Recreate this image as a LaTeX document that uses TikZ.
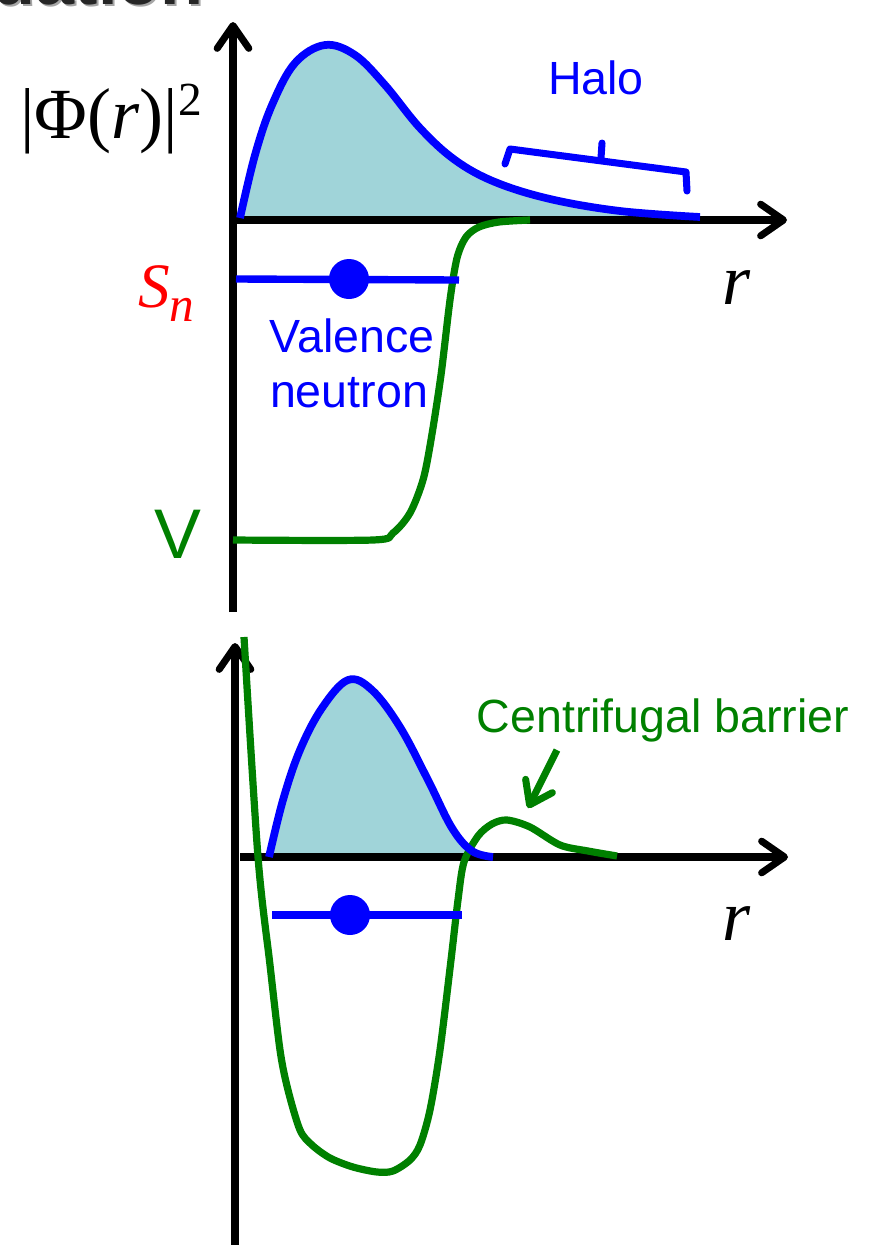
\documentclass[tikz,border=0pt]{standalone}
\usepackage{fontspec}
\setmainfont{Liberation Serif}
\newfontfamily\sansf{Liberation Sans}
\usetikzlibrary{arrows.meta}
\definecolor{fillc}{RGB}{160,212,217}
\definecolor{grn}{RGB}{0,128,0}
\definecolor{blu}{RGB}{0,0,255}
\begin{document}
\begin{tikzpicture}[x=0.02cm,y=-0.02cm,
  barb/.style={-{Straight Barb[length=13pt,width=18pt,line cap=round,line join=round]}},
  axis/.style={line width=4pt, black, barb},
  wave/.style={line width=4.4pt, blu, line join=round},
  pot/.style={line width=4.1pt, grn, line join=round},
  level/.style={line width=4.2pt, blu},
  dot/.style={circle, fill=blu, minimum size=40*0.02cm, inner sep=0},
  lbl/.style={font=\sansf\fontsize{26.5}{30}\selectfont, inner sep=0, anchor=base},
  serif/.style={font=\fontsize{41}{46}\selectfont, inner sep=0}
]
\useasboundingbox (0,0) rectangle (869,1245);
\clip (0,0) rectangle (869,1245);

% partial title
\node[inner sep=0, anchor=base east, text=black!35, font=\sansf\bfseries\fontsize{40}{48}\selectfont] (titleshadow) at (206,6) {uation};
\node[inner sep=0, anchor=base east, text=black!85, font=\sansf\bfseries\fontsize{40}{48}\selectfont] (title) at (204,4) {uation};

%%%%%%%%%%%%%%%% TOP PANEL
\fill[fillc] plot[smooth, tension=0.6] coordinates {(240,218) (255,155) (272,105) (295,63) (325,45) (355,55) (385,85) (420,128) (455,160) (495,182) (550,199) (620,211) (700,217)} -- cycle;

\coordinate (ytop0) at (233,612);
\coordinate (ytop1) at (233,22);
\coordinate (xtop0) at (233,220);
\coordinate (xtop1) at (787,220);
\draw[axis] (ytop0) -- (ytop1);
\draw[axis] (xtop0) -- (xtop1);

\draw[pot] plot[smooth, tension=0.5] coordinates {(233,540) (373,540) (393,533) (410,513) (423,480) (431,440) (441,375) (450,300) (457,258) (466,237) (479,227) (499,222) (530,220)};

\draw[wave] plot[smooth, tension=0.6] coordinates {(240,218) (255,155) (272,105) (295,63) (325,45) (355,55) (385,85) (420,128) (455,160) (495,182) (550,199) (620,211) (700,217)};

\coordinate (lev0) at (236,279);
\coordinate (lev1) at (459,280);
\draw[level] (lev0) -- (lev1);
\node[dot] (nucl) at (349,279) {};

% Halo bracket
\draw[line width=4pt, blu, line cap=round, line join=round] (505,164) -- (510,149) -- (686,172) -- (687,191);
\draw[line width=4pt, blu, line cap=round] (601,158) -- (602,143);
\node[lbl, text=blu] (halo) at (596,94) {Halo};

\node[lbl, text=blu] (val1) at (352,352) {Valence};
\node[lbl, text=blu] (val2) at (349,407) {neutron};

\node[inner sep=0, anchor=base west] (phi) at (20,138) {\fontsize{41}{46}\selectfont |Φ(\textit{r})|\raisebox{13pt}{\fontsize{27}{30}\selectfont 2}};
\node[inner sep=0, anchor=base west, text=red] (sn) at (138,307) {\fontsize{36}{40}\selectfont\textit{S}\raisebox{-8.5pt}{\fontsize{28}{30}\selectfont\textit{n}}};
\node[lbl, text=grn, font=\sansf\fontsize{40}{44}\selectfont] (vlab) at (178,558) {V};
\node[serif, anchor=base] (rtop) at (737,304) {\textit{r}};

%%%%%%%%%%%%%%%% BOTTOM PANEL
\fill[fillc] plot[smooth, tension=0.6] coordinates {(269,857) (283,800) (300,750) (322,708) (348,680) (372,690) (400,727) (428,780) (452,828) (472,851) (493,857)} -- cycle;

\coordinate (ybot0) at (235,1250);
\coordinate (ybot1) at (235,643);
\coordinate (xbot0) at (240,857);
\coordinate (xbot1) at (788,857);
\draw[axis] (ybot0) -- (ybot1);
\draw[axis] (xbot0) -- (xbot1);

\draw[pot] plot[smooth, tension=0.5] coordinates {(244,637) (258,857) (270,965) (280,1050) (288,1090) (300,1130) (312,1145) (330,1158) (353,1167) (377,1172) (393,1171) (410,1160) (420,1145) (430,1110) (440,1050) (451,960) (458,900) (464,862) (478,836) (492,824) (507,820) (530,827) (560,845) (588,851) (617,856)};

\draw[wave] plot[smooth, tension=0.6] coordinates {(269,857) (283,800) (300,750) (322,708) (348,680) (372,690) (400,727) (428,780) (452,828) (472,851) (493,857)};

\coordinate (blev0) at (272,915);
\coordinate (blev1) at (462,915);
\draw[level] (blev0) -- (blev1);
\node[dot] (bnucl) at (350,915) {};

\node[lbl, text=grn] (centri) at (663,732) {Centrifugal barrier};
\coordinate (arrstart) at (557,750);
\coordinate (barrier) at (528,808);
\draw[line width=4pt, grn, -{Straight Barb[length=12pt,width=17pt,line cap=round,line join=round]}] (arrstart) -- (barrier);
\node[serif, anchor=base] (rbot) at (737,940) {\textit{r}};
\end{tikzpicture}
\end{document}
